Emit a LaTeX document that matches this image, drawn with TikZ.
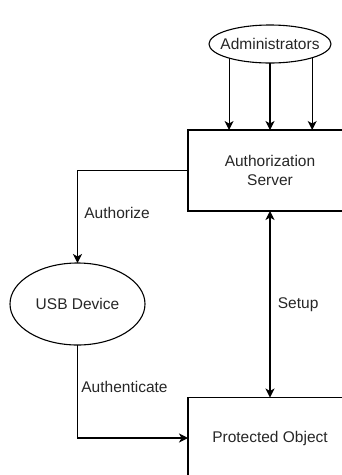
\documentclass[tikz,border=0pt]{standalone}
\usepackage{fontspec}
\setmainfont{Liberation Sans}
\usetikzlibrary{arrows.meta,shapes.geometric}
\begin{document}
\begin{tikzpicture}[
   x=1pt, y=-1pt,
   line width=1.1pt,
   every node/.style={font=\fontsize{15.5}{19}\selectfont, text=black!85},
   box/.style={draw, rectangle, minimum width=164pt, minimum height=81pt,
               inner sep=0pt, outer sep=0pt, align=center},
   oval/.style={draw, ellipse, inner sep=0pt, outer sep=0pt},
   arr/.style={-{Stealth[length=9pt,width=9pt,inset=2.5pt]}},
   twoway/.style={{Stealth[length=9pt,width=9pt,inset=2.5pt]}-{Stealth[length=9pt,width=9pt,inset=2.5pt]}}]

\useasboundingbox (0,0) rectangle (342,475);

\node[oval, minimum width=122pt, minimum height=38pt,
      label=center:Administrators] (admin) at (270,44) {};
\node[box] (server) at (270,170.5) {Authorization\\Server};
\node[oval, minimum width=135pt, minimum height=82pt] (usb) at (77.5,304) {USB Device};
\node[box] (prot) at (270,438) {Protected Object};

\draw[arr] (admin.-161.1) -- (admin.-161.1 |- server.north);
\draw[arr] (admin.south) -- (server.north);
\draw[arr] (admin.-18.9) -- (admin.-18.9 |- server.north);

\draw[arr] (server.west) -| (usb.north)
    node[pos=0.73, right, xshift=3pt] {Authorize};
\draw[arr] (usb.south) |- (prot.west)
    node[pos=0.225, right, xshift=0pt] {Authenticate};
\draw[twoway] (server.south) -- (prot.north)
    node[midway, right, xshift=4pt] {Setup};

\end{tikzpicture}
\end{document}
